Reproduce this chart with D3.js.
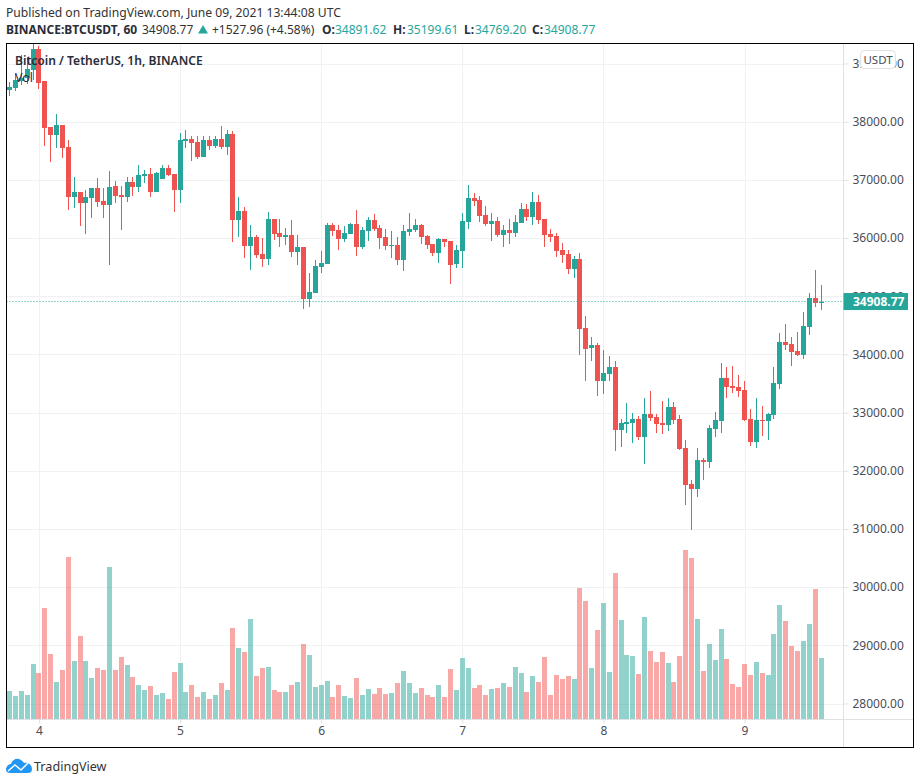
<!DOCTYPE html>
<html>
<head>
<meta charset="utf-8">
<script src="https://cdn.jsdelivr.net/npm/d3@7"></script>
<style>
  html, body { margin: 0; background: #fff; }
  svg { display: block; }
  text { font-family: "Noto Sans", sans-serif; }
</style>
</head>
<body>
<div id="chart"></div>
<script>
// hourly candles, first one is June 3 19:00 UTC
var startTime = Date.UTC(2021, 5, 3, 19)

var opens = [38550,38582,38702,38748,38886,39247,38697,37906,37768,37940,37562,36702,36788,36599,36685,36857,36634,36565,36891,36737,36702,36960,36874,37063,37098,36788,37012,37201,37098,36823,37665,37700,37648,37390,37682,37579,37700,37562,37785,36307,36462,35860,36015,35722,35637,36324,36084,36015,36049,35757,
  35843,34949,35053,35500,35551,36222,36136,35981,36067,36239,35843,36118,36308,36170,36015,35861,35878,35620,36101,36136,36222,36032,35895,35740,35981,35947,35551,35775,36273,36686,36651,36393,36239,36290,36050,36136,36084,36256,36497,36359,36617,36325,36067,36032,35792,35723,35465,
  35636,34450,34106,34158,33539,33659,33780,32697,32800,32817,32886,32576,32972,32920,32817,32783,33092,32886,32387,31769,31683,32181,32147,32714,32852,33591,33453,33436,33384,32886,32491,32869,32852,32955,33488,34210,34175,34055,33986,34467,34966,34891.62]
var highs = [38690,38817,39143,39115,39400,39298,38697,37906,38129,37940,37682,37046,36788,36823,36857,37029,36857,37149,36978,36891,37046,37046,37252,37167,37201,37132,37252,37252,37098,37803,37854,37751,37751,37751,37751,37751,37923,37854,37837,36702,36531,36221,36049,35998,36445,36324,36324,36170,36307,36049,
  35843,35396,35620,35775,36256,36256,36222,36204,36256,36479,36187,36359,36411,36222,36153,36118,36015,36222,36428,36325,36239,36050,35895,35998,35981,35947,35878,36428,36909,36772,36720,36548,36428,36359,36222,36325,36393,36600,36583,36789,36737,36325,36153,36084,35912,35792,35689,
  35739,34656,34295,34192,34072,33969,33883,32886,33161,32989,32937,33247,33367,32972,33195,33247,33178,32955,32525,31837,32387,32215,32783,33006,33849,33780,33797,33642,33539,33058,33247,33109,32989,33780,34364,34519,34295,34381,34725,35052,35447,35199.61]
var lows = [38440,38530,38628,38656,38714,38559,37579,37304,37556,37384,36479,36513,36204,36067,36342,36530,36342,35534,36599,36135,36616,36720,36788,36943,36702,36788,37012,37063,36444,36599,37545,37321,37356,37390,37510,37545,37527,37424,35929,36015,35654,35448,35654,35499,35534,35963,35843,35877,35671,35534,
  34778,34812,35053,35396,35551,36032,35792,35929,36067,35689,35809,35947,36118,35809,35792,35654,35534,35431,36032,36101,35895,35809,35689,35568,35843,35207,35482,35482,36153,36548,36273,36204,35947,36015,35843,35895,36015,36256,36290,36222,36239,35843,35929,35671,35568,35379,35310,
  33986,33539,33883,33281,33316,33539,32336,32405,32645,32473,32525,32112,32851,32645,32628,32680,32800,32353,31408,30978,31545,31837,32044,32576,32645,33247,33333,33264,32852,32422,32387,32594,32525,32886,33402,34072,33797,33969,33917,34330,34811,34769.20]
var closes = [38590,38714,38748,38903,39247,38668,37894,37768,37940,37545,36702,36788,36599,36702,36857,36616,36565,36874,36720,36702,36960,36874,37081,37098,36788,37115,37201,37081,36823,37682,37700,37631,37390,37682,37579,37700,37562,37785,36307,36462,35860,36015,35705,35637,36324,36066,36015,36049,35757,35843,
  34949,35070,35517,35568,36222,36118,35981,36084,36239,35843,36136,36308,36153,35998,35861,35878,35620,36118,36153,36222,36015,35878,35740,35981,35929,35534,35792,36290,36686,36634,36376,36239,36290,36050,36136,36084,36273,36497,36359,36617,36308,36050,36015,35775,35706,35465,35637,
  34433,34089,34158,33539,33677,33780,32697,32817,32834,32886,32576,32972,32903,32800,32783,33092,32869,32370,31751,31683,32181,32147,32731,32869,33591,33436,33419,33367,32869,32491,32869,32852,32972,33505,34210,34158,34038,33986,34485,34966,34880,34908.77]
var volumes = [85,70,85,73,166,139,334,196,112,148,487,175,250,175,124,154,148,457,148,187,163,127,103,88,100,73,79,61,142,169,82,103,67,82,61,73,109,88,274,214,202,301,130,154,157,88,82,82,103,112,
  226,193,97,103,115,67,103,70,64,124,73,91,76,94,76,79,109,145,109,79,94,73,67,103,67,151,88,184,154,94,103,73,91,94,109,97,157,139,82,130,112,187,73,133,121,130,121,394,355,
  154,268,349,142,439,298,193,190,136,307,205,172,202,169,112,190,508,484,301,145,226,178,271,181,106,97,166,133,172,139,133,256,343,295,220,205,235,286,391,184]

var priceTicks = [28000,29000,30000,31000,32000,33000,34000,35000,36000,37000,38000,39000]
var dayTicks = [4,5,6,7,8,9].map(d => new Date(Date.UTC(2021, 5, d)))

var candles = opens.map((o, i) => ({
  time: new Date(startTime + i * 3600000),
  open: o, high: highs[i], low: lows[i], close: closes[i], volume: volumes[i]
}))
var lastPrice = closes[closes.length - 1]

const upColor = "#26a69a"
const downColor = "#ef5350"
const gridColor = "#f0f1f3"
const lineColor = "#dfe1e5"
const textColor = "#4a4d57"

const frame = { left: 6.5, top: 43.5, right: 913.5, bottom: 747.5 }
const axisX = 843.5
const axisY = 719.5

var x = d3.scaleUtc([candles[0].time, candles[candles.length - 1].time], [9.5, 821])
var y = d3.scaleLinear([28000, 39000], [703.5, 63.5])
var yVol = d3.scaleLinear([0, 600], [axisY, axisY - 200])

var svg = d3.select("#chart").append("svg").attr("width", 920).attr("height", 784)

svg.append("defs").append("clipPath").attr("id", "plot").append("rect")
  .attr("x", frame.left).attr("y", frame.top)
  .attr("width", axisX - frame.left).attr("height", axisY - frame.top)

// gridlines
var grid = svg.append("g").attr("stroke", gridColor).attr("shape-rendering", "crispEdges")
grid.selectAll("line.h").data(priceTicks).join("line").attr("class", "h")
  .attr("x1", frame.left).attr("x2", axisX)
  .attr("y1", d => Math.round(y(d)) + 0.5).attr("y2", d => Math.round(y(d)) + 0.5)
grid.selectAll("line.v").data(dayTicks).join("line").attr("class", "v")
  .attr("y1", frame.top).attr("y2", axisY)
  .attr("x1", d => Math.round(x(d)) + 0.5).attr("x2", d => Math.round(x(d)) + 0.5)

var plot = svg.append("g").attr("clip-path", "url(#plot)")

// volume
plot.append("g").attr("opacity", 0.5).attr("shape-rendering", "crispEdges")
  .selectAll("rect").data(candles).join("rect")
  .attr("x", d => Math.round(x(d.time) - 2.5))
  .attr("width", 5)
  .attr("y", d => yVol(d.volume))
  .attr("height", d => yVol(0) - yVol(d.volume))
  .attr("fill", d => d.close >= d.open ? upColor : downColor)

// candles, wick sits on the middle pixel of the body
var candle = plot.append("g").attr("shape-rendering", "crispEdges")
  .selectAll("g").data(candles).join("g")
  .attr("fill", d => d.close >= d.open ? upColor : downColor)
candle.append("rect")
  .attr("x", d => Math.round(x(d.time) - 2.5) + 2)
  .attr("width", 1)
  .attr("y", d => y(d.high))
  .attr("height", d => y(d.low) - y(d.high))
candle.append("rect")
  .attr("x", d => Math.round(x(d.time) - 2.5))
  .attr("width", 5)
  .attr("y", d => y(Math.max(d.open, d.close)))
  .attr("height", d => Math.max(1, Math.abs(y(d.open) - y(d.close))))

// last price dotted line
svg.append("line")
  .attr("x1", frame.left).attr("x2", axisX)
  .attr("y1", y(lastPrice)).attr("y2", y(lastPrice))
  .attr("stroke", upColor).attr("stroke-width", 1).attr("stroke-dasharray", "1 2")

// axes
var priceAxis = svg.append("g").attr("transform", `translate(${axisX},0)`)
  .call(d3.axisRight(y).tickValues(priceTicks).tickFormat(d3.format(".2f")).tickSize(5).tickPadding(4))
priceAxis.select(".domain").remove()
priceAxis.selectAll("line").attr("stroke", lineColor)
priceAxis.selectAll("text").attr("fill", textColor).attr("font-size", 12).attr("font-family", '"Noto Sans", sans-serif')

var timeAxis = svg.append("g").attr("transform", `translate(0,${axisY})`)
  .call(d3.axisBottom(x).tickValues(dayTicks).tickFormat(d3.utcFormat("%-d")).tickSize(4).tickPadding(3))
timeAxis.select(".domain").remove()
timeAxis.selectAll("line").attr("stroke", lineColor)
timeAxis.selectAll("text").attr("fill", textColor).attr("font-size", 12).attr("font-family", '"Noto Sans", sans-serif')

svg.append("line").attr("x1", frame.left).attr("x2", frame.right).attr("y1", axisY).attr("y2", axisY).attr("stroke", lineColor)
svg.append("line").attr("x1", axisX).attr("x2", axisX).attr("y1", frame.top).attr("y2", frame.bottom).attr("stroke", lineColor)

// last price tag
svg.append("rect").attr("x", axisX).attr("y", y(lastPrice) - 8.5).attr("width", 64.5).attr("height", 17).attr("fill", upColor)
svg.append("text").attr("x", 853).attr("y", y(lastPrice) + 4.5)
  .attr("fill", "#fff").attr("font-size", 12).attr("font-weight", 700).text(d3.format(".2f")(lastPrice))

// USDT box
svg.append("rect").attr("x", 860.5).attr("y", 50.5).attr("width", 35).attr("height", 18).attr("rx", 4)
  .attr("fill", "#fff").attr("stroke", "#dfe1e5")
svg.append("text").attr("x", 878).attr("y", 63.5).attr("text-anchor", "middle")
  .attr("fill", textColor).attr("font-size", 11.5).text("USDT")

svg.append("rect").attr("x", frame.left).attr("y", frame.top)
  .attr("width", frame.right - frame.left).attr("height", frame.bottom - frame.top)
  .attr("fill", "none").attr("stroke", "#000")

// legend inside the plot
svg.append("text").attr("x", 15).attr("y", 65).attr("fill", "#2a2e39")
  .attr("font-size", 12.1).attr("font-weight", 600).text("Bitcoin / TetherUS, 1h, BINANCE")
svg.append("text").attr("x", 15).attr("y", 82).attr("fill", "#2a2e39")
  .attr("font-size", 12.5).text("Vol")

// header
svg.append("text").attr("x", 6).attr("y", 17).attr("fill", "#333").attr("font-size", 12.15)
  .text("Published on TradingView.com, June 09, 2021 13:44:08 UTC")

var headerRuns = [
  { x: 6, text: "BINANCE:BTCUSDT, 60", bold: true, color: "#2a2e39" },
  { x: 142, text: "34908.77", color: "#333" },
  { x: 212, text: "+1527.96 (+4.58%)", color: "#333" },
  { x: 322, text: "O:", bold: true, color: "#2a2e39" },
  { x: 335, text: "34891.62", color: upColor },
  { x: 393, text: "H:", bold: true, color: "#2a2e39" },
  { x: 407, text: "35199.61", color: upColor },
  { x: 464, text: "L:", bold: true, color: "#2a2e39" },
  { x: 475, text: "34769.20", color: upColor },
  { x: 532, text: "C:", bold: true, color: "#2a2e39" },
  { x: 544, text: "34908.77", color: upColor }
]
svg.append("g").selectAll("text").data(headerRuns).join("text")
  .attr("x", d => d.x).attr("y", 34).attr("font-size", 12)
  .attr("font-weight", d => d.bold ? 700 : 400)
  .attr("fill", d => d.color).text(d => d.text)
svg.append("path").attr("d", "M198 33.5L203 25L208 33.5Z").attr("fill", upColor)

// TradingView logo
svg.append("path")
  .attr("d", "M6 770C6 766 9 764 11 764C12 760 16 758 19 759C22 760 23 762 24 763C28 762 32 765 32 769C32 772 30 773 28 773L10 773C8 773 6 772 6 770Z")
  .attr("fill", "#2196f3")
svg.append("path").attr("d", "M8 771L15 765L21 770L28 763")
  .attr("fill", "none").attr("stroke", "#fff").attr("stroke-width", 1.5)
svg.append("text").attr("x", 34).attr("y", 771).attr("fill", "#333").attr("font-size", 12.6).text("TradingView")
</script>
</body>
</html>
